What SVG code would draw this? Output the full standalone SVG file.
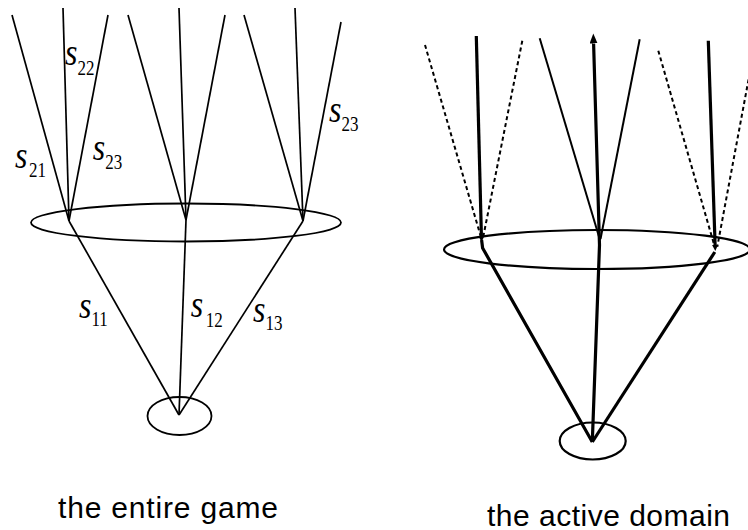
<svg xmlns="http://www.w3.org/2000/svg" width="748" height="530" viewBox="0 0 748 530">
<style>
.ell{fill:none;stroke:#000;stroke-width:1.8}
.ellb{fill:none;stroke:#000;stroke-width:2.2}
.thin{fill:none;stroke:#000;stroke-width:1.7}
.solid{fill:none;stroke:#000;stroke-width:2}
.thick{fill:none;stroke:#000;stroke-width:3.2}
.dash{fill:none;stroke:#000;stroke-width:2;stroke-dasharray:4 3}
.lbl{font-family:"Liberation Serif","Times New Roman",serif;fill:#000}
.s{font-style:italic;font-size:32px}
.sub{font-style:normal;font-size:17px}
.cap{font-family:"Liberation Sans",Arial,sans-serif;font-size:30px;fill:#000}
</style>
<defs>
<marker id="arrowBig" viewBox="0 0 10 8" refX="0" refY="4" markerWidth="10" markerHeight="8" markerUnits="userSpaceOnUse" orient="auto"><path d="M0,0 L10,4 L0,8 z" fill="#000"/></marker>
<marker id="arrowSmall" viewBox="0 0 6 6" refX="0" refY="3" markerWidth="6" markerHeight="6" markerUnits="userSpaceOnUse" orient="auto"><path d="M0,0 L6,3 L0,6 z" fill="#000"/></marker>
</defs>
<rect width="748" height="530" fill="#fff"/>
<g id="connectors">
<line class="thin" x1="69" y1="221" x2="12" y2="15"/>
<line class="thin" x1="69" y1="221" x2="63" y2="8"/>
<line class="thin" x1="69" y1="221" x2="108" y2="15"/>
<line class="thin" x1="186" y1="220" x2="128" y2="15"/>
<line class="thin" x1="186" y1="220" x2="179" y2="8"/>
<line class="thin" x1="186" y1="220" x2="225" y2="15"/>
<line class="thin" x1="303" y1="221" x2="244" y2="15"/>
<line class="thin" x1="303" y1="221" x2="295" y2="8"/>
<line class="thin" x1="303" y1="221" x2="341" y2="22"/>
<line class="thin" x1="179" y1="415" x2="69" y2="221"/>
<line class="thin" x1="179" y1="415" x2="186" y2="220"/>
<line class="thin" x1="179" y1="415" x2="303" y2="221"/>
<line class="dash" x1="425" y1="45" x2="481.5" y2="239"/>
<line class="dash" x1="522.3" y1="40.7" x2="483" y2="238"/>
<line class="thick" x1="476.3" y1="36" x2="481.4" y2="236" marker-end="url(#arrowSmall)"/>
<line class="solid" x1="539.7" y1="38.3" x2="600" y2="240"/>
<line class="solid" x1="639.7" y1="39.3" x2="600.5" y2="239"/>
<line class="dash" x1="658.3" y1="50.7" x2="714.7" y2="246.7"/>
<line class="dash" x1="755" y1="45" x2="717.3" y2="246.7"/>
<line class="thick" x1="708.3" y1="40.7" x2="715.1" y2="245" marker-end="url(#arrowSmall)"/>
<polyline class="thick" points="592.3,442 482.6,248 481.6,240"/>
<polyline class="thick" points="592.3,442 599.5,245 593.6,43.5" marker-end="url(#arrowBig)"/>
<polyline class="thick" points="592.3,442 714.8,252"/>
</g>
<g id="left-root"><ellipse class="ell" cx="179.5" cy="416" rx="32" ry="19"/></g>
<g id="left-infoset"><ellipse class="ell" cx="186" cy="222.5" rx="155" ry="19"/></g>
<g id="right-root"><ellipse class="ellb" cx="592.7" cy="441" rx="33" ry="18.5"/></g>
<g id="right-infoset"><ellipse class="ellb" cx="597" cy="249.5" rx="153" ry="19.5"/></g>
<g id="labels">
<text class="lbl" transform="translate(15,168.3) scale(1,1.2)"><tspan class="s" x="0" y="0">s</tspan><tspan class="sub" x="14" y="7">21</tspan></text>
<text class="lbl" transform="translate(65,65) scale(1,1.2)"><tspan class="s" x="0" y="0">s</tspan><tspan class="sub" x="12.5" y="8.3">22</tspan></text>
<text class="lbl" transform="translate(92.7,160) scale(1,1.2)"><tspan class="s" x="0" y="0">s</tspan><tspan class="sub" x="12.5" y="7.5">23</tspan></text>
<text class="lbl" transform="translate(329,122) scale(1,1.2)"><tspan class="s" x="0" y="0">s</tspan><tspan class="sub" x="12.5" y="7.3">23</tspan></text>
<text class="lbl" transform="translate(79,318) scale(1,1.2)"><tspan class="s" x="0" y="0">s</tspan><tspan class="sub" x="12.5" y="6.7">11</tspan></text>
<text class="lbl" transform="translate(190.7,316.7) scale(1,1.2)"><tspan class="s" x="0" y="0">s</tspan><tspan class="sub" x="15" y="8.3">12</tspan></text>
<text class="lbl" transform="translate(253,321.7) scale(1,1.2)"><tspan class="s" x="0" y="0">s</tspan><tspan class="sub" x="12.5" y="6.9">13</tspan></text>
</g>
<g id="captions">
<text class="cap" x="58" y="518.3" textLength="220" lengthAdjust="spacing">the entire game</text>
<text class="cap" x="487" y="525.5" textLength="243" lengthAdjust="spacing">the active domain</text>
</g>
</svg>
